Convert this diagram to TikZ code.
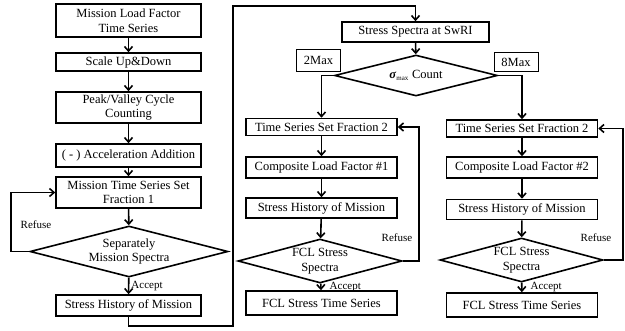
\documentclass[tikz,border=0pt]{standalone}
\usepackage{fontspec}
\setmainfont{Liberation Serif}
\usetikzlibrary{shapes.geometric,arrows.meta}
\begin{document}
\begin{tikzpicture}[x=1pt,y=-1pt,
  every node/.style={font=\fontsize{12.5}{14.5}\selectfont},
  box/.style={draw,line width=1.6pt,minimum width=145pt,align=center,inner sep=0pt},
  mbox/.style={box,minimum width=151pt},
  dia/.style={draw,diamond,line width=1.6pt,align=center,inner sep=0pt},
  tag/.style={draw,line width=0.8pt,inner sep=0pt,minimum width=44pt},
  lbl/.style={font=\fontsize{11}{13}\selectfont,inner sep=1pt},
  conn/.style={line width=1.6pt},
  arr/.style={conn,-{Straight Barb[length=4.5pt,width=8pt]}}]
\useasboundingbox (0,0) rectangle (625,330);
% left column
\node[box,minimum height=33pt] (b1) at (128.5,20.5) {Mission Load Factor\\Time Series};
\node[box,minimum height=18pt] (b2) at (128.5,62) {Scale Up\&Down};
\node[box,minimum height=31pt] (b3) at (128.5,107.5) {Peak/Valley Cycle\\Counting};
\node[box,minimum height=23pt] (b4) at (128.5,155.5) {( - ) Acceleration Addition};
\node[box,minimum height=31pt] (b5) at (128.5,192.5) {Mission Time Series Set\\Fraction 1};
\node[dia,minimum width=198pt,minimum height=51pt,aspect=3.9] (d1) at (129,251.5) {Separately\\Mission Spectra};
\node[box,minimum height=21pt] (b6) at (128.5,305.5) {Stress History of Mission};
\node[lbl] (rf1) at (36,225) {Refuse};
% top middle
\node[box,minimum width=147pt,minimum height=20pt] (ss) at (415.5,32) {Stress Spectra at SwRI};
\node[dia,minimum width=163pt,minimum height=41pt,aspect=4] (sig) at (416,75.5) {\textbf{\textit{σ}}\textsubscript{\fontsize{7}{8}\selectfont max} Count};
\node[tag,minimum height=22pt] (t2) at (318.5,60) {2Max};
\node[tag,minimum height=19pt] (t8) at (516,62) {8Max};
% middle column
\node[mbox,minimum height=17pt] (m1) at (321.5,127) {Time Series Set Fraction 2};
\node[mbox,minimum height=21pt] (m2) at (321.5,167.5) {Composite Load Factor \#1};
\node[mbox,minimum height=20pt] (m3) at (321.5,208) {Stress History of Mission};
\node[dia,minimum width=164pt,minimum height=44pt,aspect=3.7] (m4) at (320,261) {FCL Stress\\Spectra};
\node[mbox,minimum height=24pt] (m5) at (321.5,303) {FCL Stress Time Series};
\node[lbl] (rf2) at (397,238) {Refuse};
% right column
\node[mbox,minimum height=17pt] (r1) at (522,128.5) {Time Series Set Fraction 2};
\node[mbox,minimum height=21pt] (r2) at (522,167.5) {Composite Load Factor \#2};
\node[mbox,minimum height=20pt] (r3) at (522,209.5) {Stress History of Mission};
\node[dia,minimum width=163pt,minimum height=44pt,aspect=3.7] (r4) at (521.5,260) {FCL Stress\\Spectra};
\node[mbox,minimum height=24pt] (r5) at (522,305) {FCL Stress Time Series};
\node[lbl] (rf3) at (596,238) {Refuse};
% connectors left
\draw[arr] (b1) -- (b2);
\draw[arr] (b2) -- (b3);
\draw[arr] (b3) -- (b4);
\draw[arr] (b4) -- (b5);
\draw[arr] (b5) -- (d1);
\draw[arr] (d1) -- node[lbl,anchor=west,xshift=1pt]{Accept} (b6);
\draw[arr] (d1.west) -- ++(-18,0) |- (b5.west);
\coordinate (c1) at (233,326);
\coordinate (c2) at (233,6);
\draw[arr] (b6.south) |- (c1) -- (c2) -| (ss.north);
% top middle
\draw[arr] (ss) -- (sig);
\draw[arr] (sig.west) -| (m1.north);
\draw[arr] (sig.east) -| (r1.north);
% middle
\draw[arr] (m1) -- (m2);
\draw[arr] (m2) -- (m3);
\draw[arr] (m3) -- (m4);
\draw[arr] (m4) -- node[lbl,anchor=west,xshift=7pt]{Accept} (m5);
\draw[arr] (m4.east) -- ++(16,0) |- (m1.east);
% right
\draw[arr] (r1) -- (r2);
\draw[arr] (r2) -- (r3);
\draw[arr] (r3) -- (r4);
\draw[arr] (r4) -- node[lbl,anchor=west,xshift=7pt]{Accept} (r5);
\draw[arr] (r4.east) -- ++(19,0) |- (r1.east);
\end{tikzpicture}
\end{document}
